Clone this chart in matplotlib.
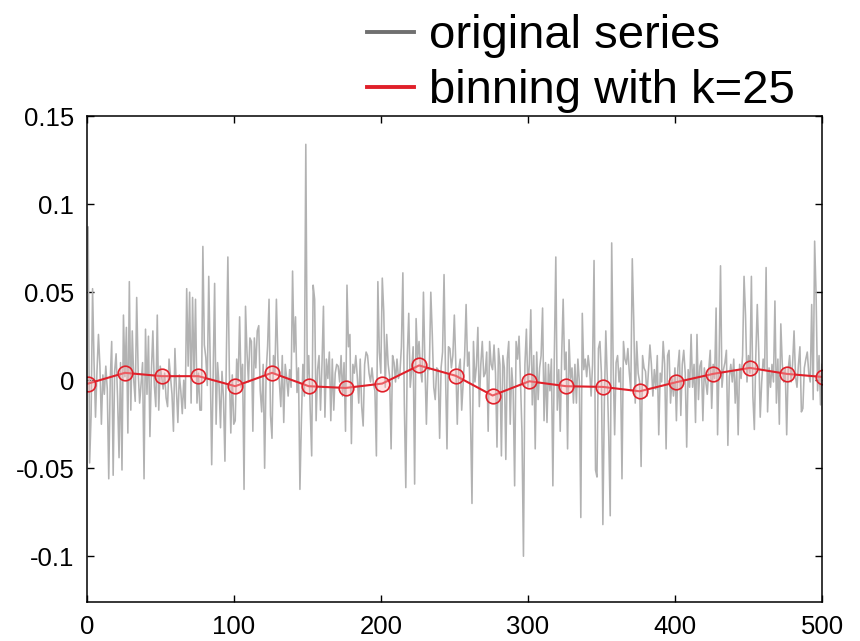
import numpy as np
import matplotlib
matplotlib.use('Agg')
import matplotlib.pyplot as plt
from matplotlib.lines import Line2D

plt.rcParams['font.family'] = ['Liberation Sans', 'DejaVu Sans']
plt.rcParams['axes.unicode_minus'] = False

# ============================================
# DATA (units of 1e-3)
# ============================================
orig_milli = [
    # 1 - 100
    87, -47, -20, 52, 10, -21, 5, 26, 8, -25,
    3, -8, 8, -5, -56, 0, 22, -54, 5, 15,
    -10, -44, 10, -51, 37, 2, 30, -30, 56, -17,
    28, 0, -12, 47, 5, -13, -2, 10, -56, 29,
    -8, 25, -32, 5, 28, -3, -15, 37, -17, 8,
    2, -5, 4, -10, -15, 12, 2, -8, -29, 18,
    -5, -24, 3, -6, -19, 0, -16, 52, 8, 50,
    -13, 47, 2, 46, -13, 4, -17, -17, 76, 20,
    13, -3, 59, 10, -48, 5, 55, -25, 10, -3,
    -27, 5, -10, -46, 15, 70, 5, -30, 3, -25,
    # 101 - 200
    -23, 12, -1, 36, -4, 9, -62, 42, 16, -1,
    24, 22, -29, 24, 7, 28, 31, -6, -18, 9,
    -50, 4, 19, 46, -20, -33, 14, 4, 46, 12,
    -1, -15, 14, -24, 9, 1, -9, 6, -4, 62,
    16, 36, -7, 7, -62, -23, 9, -9, 134, 1,
    14, -17, -43, 54, 46, -23, 6, 14, -17, 9,
    42, -21, 12, 1, 16, -23, 12, -17, 4, 9,
    8, -1, 14, -9, 10, -29, 54, 19, 26, -36,
    9, 4, 14, 2, -13, 12, -15, -26, 9, 16,
    14, 4, -1, 7, -2, -6, -43, 56, 16, 4,
    # 201 - 300
    58, 39, -4, 26, 9, 2, -39, 14, 10, -1,
    12, 1, 4, 19, 61, -14, -61, 14, 38, -4,
    6, 19, -59, 35, 12, 22, 6, -1, 50, 9,
    -25, 7, 6, 50, 26, -4, -11, 7, 6, -33,
    7, 16, 60, 4, -39, 19, 18, 7, 14, 37,
    9, -25, 6, 12, -17, -1, 14, 43, 8, 16,
    -21, -70, 22, -1, 8, 30, -15, 9, 22, 2,
    4, 16, -29, 22, 9, 6, 20, 4, -38, 18,
    9, -43, 14, 7, -45, 12, 22, -25, 7, -6,
    -60, 22, 12, 25, -1, -30, -100, 9, 29, -4,
    # 301 - 400
    9, 40, -14, 14, -39, 16, -11, 7, 14, 41,
    -23, 10, -24, 9, -6, 12, -60, 14, 70, -17,
    6, -29, 14, 46, 6, 16, -39, 23, 1, 7,
    -13, 9, -13, 12, -1, -78, 38, 6, 12, 2,
    14, 6, -9, 9, 68, -51, -55, 18, 22, 4,
    -82, -13, 28, 1, -32, -77, 78, 9, -31, 10,
    14, -1, 7, -56, 22, 12, 9, 18, 4, -6,
    69, 34, -13, 22, 4, -1, -49, 14, 7, 5,
    -9, 6, 20, 9, -9, 6, -5, 14, -31, 4,
    -1, 22, 9, -39, 14, 17, -13, 1, -9, 7,
    # 401 - 500
    -23, 7, 17, -20, 9, 17, 4, -38, 6, -4,
    26, -4, 9, -24, 26, -11, 8, 11, -23, 7,
    -1, -8, 6, 17, -16, 9, 1, 41, -31, 9,
    65, -4, 6, 10, 17, -37, 2, 9, -1, 12,
    -13, 6, -31, 9, 1, 14, 59, 37, -1, 14,
    4, 59, -9, -28, 14, 43, 16, -21, -1, 12,
    6, 64, -18, 7, -4, 9, -1, 45, -13, 12,
    -25, 32, 9, -1, 7, -31, 6, 14, -1, 9,
    28, 2, -4, 9, 19, -18, -16, 7, 12, 16,
    4, -1, 43, -11, 79, 48, -6, 14, -14, 9,
]

bin_x = [1, 26, 51, 76, 101, 126, 151, 176, 201, 226, 251,
         276, 301, 326, 351, 376, 401, 426, 451, 476, 501]
bin_y = [-0.0019, 0.0042, 0.0023, 0.0023, -0.0034, 0.0042, -0.0034,
         -0.0044, -0.0019, 0.0084, 0.0025, -0.0087, -0.0006, -0.0034,
         -0.0038, -0.0063, -0.0011, 0.0036, 0.0070, 0.0036, 0.0018]

x_ticks = [0, 100, 200, 300, 400, 500]
y_ticks = [-0.1, -0.05, 0, 0.05, 0.1, 0.15]
y_tick_labels = ['-0.1', '-0.05', '0', '0.05', '0.1', '0.15']

labels = ['original series', 'binning with k=25']

orig = np.array(orig_milli) / 1000.0
t = np.arange(1, len(orig) + 1)

# ============================================
# PLOT
# ============================================
fig = plt.figure(figsize=(8.6, 6.41), dpi=100)
ax = fig.add_axes([0.1008, 0.0608, 0.855, 0.758])

ax.plot(t, orig, color='#b2b2b2', linewidth=1.15)
ax.plot(bin_x, bin_y, color='#e0202a', linewidth=1.5,
        marker='o', markersize=10.5, markeredgewidth=1.2,
        markerfacecolor=(1.0, 0.72, 0.72, 0.4), markeredgecolor='#e0202a')

ax.set_xlim(0, 500)
ax.set_ylim(-0.126, 0.15)
ax.set_xticks(x_ticks)
ax.set_yticks(y_ticks)
ax.set_yticklabels(y_tick_labels)
ax.tick_params(direction='in', length=5, width=1, labelsize=18.5,
               top=True, right=True)
ax.tick_params(axis='x', pad=9)
ax.tick_params(axis='y', pad=9)
for s in ax.spines.values():
    s.set_linewidth(1.1)

handles = [Line2D([], [], color='#707070', linewidth=2.8),
           Line2D([], [], color='#e0202a', linewidth=2.8)]
fig.legend(handles, labels, loc='upper left',
           bbox_to_anchor=(0.4267, 0.978), frameon=False,
           fontsize=34, handlelength=1.0, handletextpad=0.32,
           borderpad=0.0, borderaxespad=0.0, labelspacing=0.24)

plt.savefig('out.png', dpi=100)
